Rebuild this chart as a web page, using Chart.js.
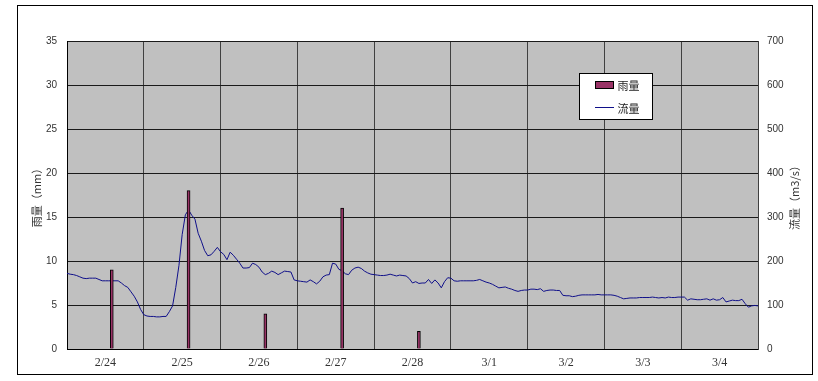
<!DOCTYPE html>
<html lang="ja">
<head>
<meta charset="utf-8">
<title>雨量・流量</title>
<script src="https://cdn.jsdelivr.net/npm/chart.js@4/dist/chart.umd.min.js"></script>
<style>
html, body { margin: 0; padding: 0; background: #fff; }
canvas { display: block; }
</style>
</head>
<body>
<canvas id="c" width="818" height="381"></canvas>
<script>
// Day labels along the time axis (each day = 24 hours)
const dayLabels = ['2/24', '2/25', '2/26', '2/27', '2/28', '3/1', '3/2', '3/3', '3/4'];

// Daily rainfall (mm), plotted at the hour it was recorded
const rainHours = [14, 38, 62, 86, 110];
const rainValues = [9, 18, 4, 16, 2];

// Hourly discharge (m3/s), 2/24 0:00 through 3/5 0:00
const flowValues = [
  // 2/24
  172, 170, 169, 167, 164, 161, 160, 161, 161, 161, 158, 155,
  155, 155, 155, 155, 155, 150, 144, 140, 130, 120, 107, 90,
  // 2/25
  78, 75, 74, 74, 73, 73, 74, 74, 85, 98, 140, 190,
  260, 305, 316, 304, 295, 263, 245, 224, 212, 214, 222, 231,
  // 2/26
  221, 215, 203, 220, 213, 204, 195, 184, 184, 185, 195, 192,
  186, 175, 169, 172, 177, 174, 169, 173, 177, 176, 175, 157,
  // 2/27
  155, 154, 153, 152, 157, 153, 148, 154, 164, 168, 169, 195,
  193, 181, 178, 171, 169, 179, 184, 186, 183, 177, 173, 170,
  // 2/28
  169, 168, 167, 167, 168, 170, 168, 166, 168, 167, 166, 160,
  150, 153, 149, 150, 150, 158, 149, 157, 150, 139, 153, 162,
  // 3/1
  161, 155, 154, 155, 155, 155, 155, 155, 156, 158, 155, 152,
  150, 147, 143, 139, 140, 141, 138, 136, 133, 131, 133, 134,
  // 3/2
  134, 136, 136, 135, 137, 131, 133, 134, 134, 133, 133, 122,
  121, 121, 119, 120, 122, 123, 123, 123, 123, 123, 124, 123,
  // 3/3
  123, 123, 123, 122, 120, 117, 114, 115, 116, 116, 116, 117,
  117, 117, 117, 118, 117, 116, 117, 116, 118, 117, 117, 118,
  // 3/4
  118, 118, 111, 114, 113, 112, 112, 113, 114, 111, 114, 111,
  112, 117, 107, 109, 111, 110, 110, 113, 103, 95, 98, 99,
  // 3/5 0:00
  98
];

const rainAxis = { min: 0, max: 35, step: 5 };
const flowAxis = { min: 0, max: 700, step: 100 };

const RAIN_FILL = '#993366';
const FLOW_LINE = '#10108a';
const CJK_FONT = "'Noto Sans CJK JP', 'Noto Sans CJK SC', sans-serif";

// Frame, plot background
const backdrop = {
  id: 'backdrop',
  beforeDraw(chart) {
    const { ctx, chartArea: a, width, height } = chart;
    ctx.save();
    ctx.fillStyle = '#ffffff';
    ctx.fillRect(0, 0, width, height);
    ctx.fillStyle = '#c0c0c0';
    ctx.fillRect(a.left, a.top, a.right - a.left, a.bottom - a.top);
    ctx.strokeStyle = '#000000';
    ctx.lineWidth = 1;
    ctx.strokeRect(17.5, 5.5, 795, 369);
    ctx.restore();
  }
};

// Vertical axis titles, both reading bottom-to-top
const axisTitles = {
  id: 'axisTitles',
  afterDraw(chart) {
    const { ctx, chartArea: a, scales } = chart;
    const cy = (a.top + a.bottom) / 2;
    ctx.save();
    ctx.font = '11px ' + CJK_FONT;
    ctx.fillStyle = '#333333';
    ctx.textAlign = 'center';
    ctx.textBaseline = 'middle';
    const items = [
      [scales.y.options.title.text, a.left - 30],
      [scales.y1.options.title.text, a.right + 37]
    ];
    for (const [text, x] of items) {
      ctx.save();
      ctx.translate(x, cy);
      ctx.rotate(-Math.PI / 2);
      ctx.fillText(text, 0, 0);
      ctx.restore();
    }
    ctx.restore();
  }
};

// Boxed legend inside the plot area
const boxLegend = {
  id: 'boxLegend',
  afterDraw(chart) {
    const { ctx, chartArea: a } = chart;
    const bx = a.left + 512.5, by = a.top + 32.5, bw = 73, bh = 46;
    ctx.save();
    ctx.fillStyle = '#ffffff';
    ctx.fillRect(bx, by, bw, bh);
    ctx.strokeStyle = '#000000';
    ctx.lineWidth = 1;
    ctx.strokeRect(bx, by, bw, bh);

    const ds = chart.data.datasets;
    // bar swatch
    ctx.fillStyle = ds[0].backgroundColor;
    ctx.fillRect(bx + 16, by + 8, 18, 7);
    ctx.strokeStyle = '#000000';
    ctx.strokeRect(bx + 16, by + 8, 18, 7);
    // line swatch
    ctx.strokeStyle = ds[1].borderColor;
    ctx.beginPath();
    ctx.moveTo(bx + 15.5, by + 34);
    ctx.lineTo(bx + 34.5, by + 34);
    ctx.stroke();

    ctx.font = '11px ' + CJK_FONT;
    ctx.fillStyle = '#222222';
    ctx.textAlign = 'left';
    ctx.textBaseline = 'middle';
    ctx.fillText(ds[0].label, bx + 38, by + 12);
    ctx.fillText(ds[1].label, bx + 38, by + 35);
    ctx.restore();
  }
};

new Chart(document.getElementById('c'), {
  type: 'bar',
  data: {
    datasets: [
      {
        type: 'bar',
        label: '雨量',
        data: rainHours.map((h, i) => ({ x: h, y: rainValues[i] })),
        backgroundColor: RAIN_FILL,
        borderColor: '#000000',
        borderWidth: 1,
        barThickness: 3,
        xAxisID: 'x',
        yAxisID: 'y'
      },
      {
        type: 'line',
        label: '流量',
        data: flowValues.map((v, i) => ({ x: i, y: v })),
        borderColor: FLOW_LINE,
        borderWidth: 1,
        pointRadius: 0,
        tension: 0,
        fill: false,
        xAxisID: 'x',
        yAxisID: 'y1'
      }
    ]
  },
  options: {
    responsive: false,
    animation: false,
    devicePixelRatio: 1,
    layout: { padding: { top: 41, left: 0, right: 0, bottom: 0 } },
    plugins: {
      legend: { display: false },
      tooltip: { enabled: false }
    },
    scales: {
      x: {
        type: 'linear',
        min: 0,
        max: dayLabels.length * 24,
        offset: false,
        afterBuildTicks(scale) {
          const t = [];
          for (let h = 0; h <= dayLabels.length * 24; h += 12) t.push({ value: h });
          scale.ticks = t;
        },
        afterFit(scale) { scale.height = 32; },
        ticks: {
          autoSkip: false,
          maxRotation: 0,
          padding: 7,
          color: '#333333',
          font: { family: "'Liberation Serif', 'DejaVu Serif', serif", size: 12 },
          callback(value) {
            return value % 24 === 12 ? dayLabels[(value - 12) / 24] : '';
          }
        },
        grid: {
          offset: false,
          drawTicks: false,
          color(ctx) {
            return ctx.tick && ctx.tick.value % 24 === 0 ? '#404040' : 'rgba(0,0,0,0)';
          }
        },
        border: { display: true, color: '#000000', width: 1 }
      },
      y: {
        position: 'left',
        min: rainAxis.min,
        max: rainAxis.max,
        afterFit(scale) { scale.width = 67; },
        title: { display: false, text: '雨量（mm）' },
        ticks: {
          stepSize: rainAxis.step,
          padding: 10,
          color: '#333333',
          font: { family: "'Liberation Sans', Arial, sans-serif", size: 10 }
        },
        grid: { drawTicks: false, color: '#1a1a1a' },
        border: { display: true, color: '#000000', width: 1 }
      },
      y1: {
        position: 'right',
        min: flowAxis.min,
        max: flowAxis.max,
        afterFit(scale) { scale.width = 60; },
        title: { display: false, text: '流量（m3/s）' },
        ticks: {
          stepSize: flowAxis.step,
          padding: 9,
          color: '#333333',
          font: { family: "'Liberation Sans', Arial, sans-serif", size: 10 }
        },
        grid: { drawTicks: false, drawOnChartArea: false },
        border: { display: true, color: '#404040', width: 1 }
      }
    }
  },
  plugins: [backdrop, axisTitles, boxLegend]
});
</script>
</body>
</html>
